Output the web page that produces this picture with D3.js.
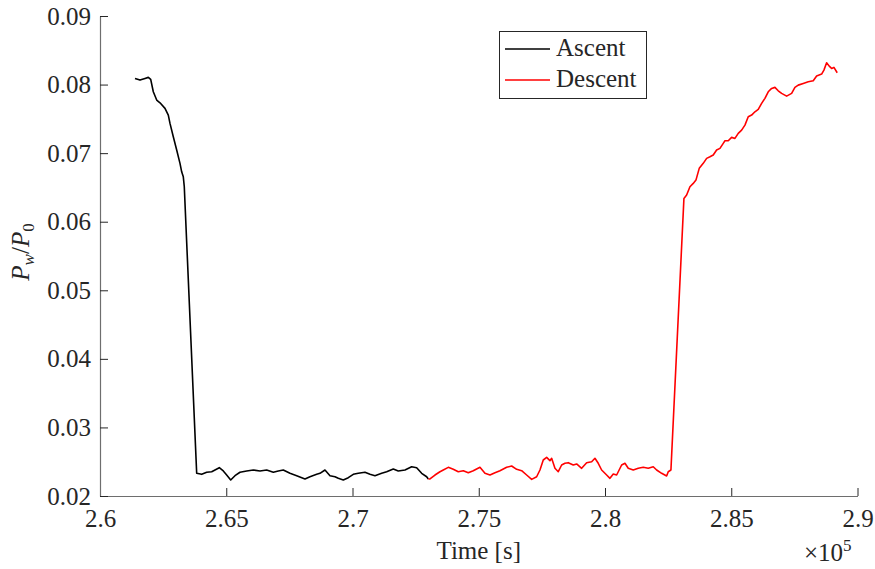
<!DOCTYPE html>
<html>
<head>
<meta charset="utf-8">
<script src="https://cdn.jsdelivr.net/npm/d3@7"></script>
<style>
  body { margin: 0; background: #fff; }
  svg text { font-family: "Liberation Serif", "Times New Roman", serif; fill: #262626; }
</style>
</head>
<body>
<div id="chart"></div>
<script>
// time in seconds, pressure ratio Pw/P0
const ascentTime = [261386, 261584, 261782, 261913, 262008, 262111, 262245, 262376, 262574, 262705,
  262772, 262903, 263037, 263168, 263235, 263299, 263338, 263829, 264027, 264225,
  264423, 264554, 264724, 264883, 265017, 265176, 265346, 265544, 265809, 266071,
  266336, 266601, 266863, 267061, 267259, 267524, 267789, 268118, 268316, 268581,
  268712, 268910, 269108, 269306, 269437, 269635, 269833, 270031, 270229, 270494,
  270692, 270890, 271155, 271353, 271615, 271813, 272078, 272343, 272541, 272739,
  272937, 273002];
const ascentP = [0.0809, 0.08065, 0.0809, 0.08105, 0.08076, 0.07895, 0.07774, 0.07734, 0.07653, 0.07555,
  0.07434, 0.07239, 0.07045, 0.06851, 0.06728, 0.06655, 0.0651, 0.02331, 0.02316, 0.02346,
  0.02354, 0.02379, 0.02413, 0.02365, 0.02306, 0.02233, 0.02296, 0.02346, 0.02365, 0.02379,
  0.02365, 0.02379, 0.02346, 0.02365, 0.02379, 0.02331, 0.02296, 0.02248, 0.02281, 0.02316,
  0.02331, 0.02379, 0.02296, 0.02281, 0.02258, 0.02233, 0.02267, 0.02316, 0.02331, 0.02346,
  0.02316, 0.02296, 0.02331, 0.02354, 0.02394, 0.02365, 0.02379, 0.02427, 0.02413, 0.02331,
  0.02281, 0.02248];

const descentTime = [273002, 273068, 273266, 273464, 273595, 273793, 273991, 274189, 274387, 274585,
  274783, 275048, 275246, 275444, 275642, 275840, 276105, 276303, 276501, 276699,
  276897, 277095, 277293, 277424, 277555, 277689, 277820, 277887, 278018, 278149,
  278283, 278414, 278545, 278743, 278877, 279075, 279273, 279471, 279602, 279733,
  279867, 280065, 280196, 280327, 280461, 280659, 280790, 280921, 281119, 281317,
  281515, 281713, 281911, 282045, 282243, 282441, 282505, 282611,
  283126, 283233, 283364, 283495, 283602, 283732, 283891, 284025, 284156, 284287,
  284421, 284552, 284683, 284750, 284881, 285015, 285146, 285277, 285411, 285542,
  285673, 285807, 285938, 286069, 286203, 286334, 286465, 286599, 286730, 286861,
  286995, 287193, 287391, 287522, 287653, 287851, 288049, 288247, 288381, 288579,
  288670, 288777, 288880, 288975, 289066, 289197];
const descentP = [0.02248, 0.02248, 0.02306, 0.02354, 0.02379, 0.02418, 0.02389, 0.02354, 0.02369, 0.0234,
  0.02369, 0.02418, 0.02331, 0.02306, 0.0234, 0.02369, 0.02418, 0.02437, 0.02389, 0.02369,
  0.02306, 0.02243, 0.02281, 0.02379, 0.02525, 0.02564, 0.02515, 0.0255, 0.02404, 0.02354,
  0.02452, 0.02477, 0.02486, 0.02452, 0.02467, 0.02404, 0.02486, 0.025, 0.0255, 0.02477,
  0.02379, 0.02306, 0.02258, 0.02321, 0.02306, 0.02452, 0.02477, 0.02404, 0.02379, 0.02404,
  0.02418, 0.02404, 0.02427, 0.02379, 0.02331, 0.02292, 0.02354, 0.02379,
  0.0634, 0.06389, 0.0651, 0.06559, 0.06607, 0.06778, 0.06851, 0.06924, 0.06947, 0.06972,
  0.07045, 0.0707, 0.07142, 0.0718, 0.0718, 0.0723, 0.07215, 0.07288, 0.07336, 0.07409,
  0.0753, 0.07555, 0.07603, 0.07638, 0.07726, 0.07799, 0.07895, 0.07944, 0.07959, 0.07909,
  0.07871, 0.07832, 0.07871, 0.07959, 0.07992, 0.08017, 0.0804, 0.08055, 0.08124, 0.08153,
  0.08211, 0.08318, 0.08269, 0.08236, 0.0825, 0.08172];

const xTicks = [260000, 265000, 270000, 275000, 280000, 285000, 290000];
const xTickLabels = ["2.6", "2.65", "2.7", "2.75", "2.8", "2.85", "2.9"];
const yTicks = [0.02, 0.03, 0.04, 0.05, 0.06, 0.07, 0.08, 0.09];
const yTickLabels = ["0.02", "0.03", "0.04", "0.05", "0.06", "0.07", "0.08", "0.09"];

const serif = '"Liberation Serif", "Times New Roman", serif';
const svgWidth = 875, svgHeight = 569;
const margin = {top: 16, right: 17.5, bottom: 73, left: 100};
const width = svgWidth - margin.left - margin.right;
const height = svgHeight - margin.top - margin.bottom;

const svg = d3.select("#chart").append("svg")
  .attr("width", svgWidth)
  .attr("height", svgHeight);

const chartGroup = svg.append("g")
  .attr("transform", `translate(${margin.left}, ${margin.top})`);

const x = d3.scaleLinear().domain([260000, 290000]).range([0, width]);
const y = d3.scaleLinear().domain([0.02, 0.09]).range([height, 0]);

// axes, ticks pointing inward like matlab
const bottomAxis = d3.axisBottom(x)
  .tickValues(xTicks)
  .tickFormat((d, i) => xTickLabels[i])
  .tickSizeInner(-8).tickSizeOuter(0).tickPadding(13);
const leftAxis = d3.axisLeft(y)
  .tickValues(yTicks)
  .tickFormat((d, i) => yTickLabels[i])
  .tickSizeInner(-8).tickSizeOuter(0).tickPadding(9);

const xAxis = chartGroup.append("g")
  .attr("transform", `translate(0, ${height})`)
  .call(bottomAxis);
const yAxis = chartGroup.append("g").call(leftAxis);

[xAxis, yAxis].forEach(ax => {
  ax.attr("font-size", null).attr("font-family", serif);
  ax.select(".domain").attr("stroke", "#6e6e6e").attr("stroke-width", 1.2);
  ax.selectAll(".tick line").attr("stroke", "#262626").attr("stroke-width", 1);
  ax.selectAll(".tick text")
    .style("font-family", serif)
    .style("font-size", "25px")
    .attr("fill", "#262626");
});

// lines
const ascent = ascentTime.map((t, i) => [t, ascentP[i]]);
const descent = descentTime.map((t, i) => [t, descentP[i]]);
const line = d3.line().x(d => x(d[0])).y(d => y(d[1]));

chartGroup.append("path").datum(ascent)
  .attr("d", line).attr("fill", "none")
  .attr("stroke", "#000").attr("stroke-width", 1.6).attr("stroke-linejoin", "round");
chartGroup.append("path").datum(descent)
  .attr("d", line).attr("fill", "none")
  .attr("stroke", "#ff0000").attr("stroke-width", 1.6).attr("stroke-linejoin", "round");

// axis labels
svg.append("text")
  .attr("x", margin.left + width / 2).attr("y", 559)
  .attr("text-anchor", "middle").style("font-size", "25px")
  .text("Time [s]");

const expo = svg.append("text")
  .attr("x", 804).attr("y", 561).style("font-size", "25px");
expo.append("tspan").text("×10");
expo.append("tspan").attr("dy", -10).style("font-size", "17px").text("5");

const yLabel = svg.append("text")
  .attr("transform", `translate(29, ${margin.top + height / 2 - 4}) rotate(-90)`)
  .attr("text-anchor", "middle").style("font-size", "25px");
yLabel.append("tspan").style("font-style", "italic").text("P");
yLabel.append("tspan").attr("dy", 5).style("font-style", "italic").style("font-size", "17px").text("w");
yLabel.append("tspan").attr("dy", -5).text("/");
yLabel.append("tspan").style("font-style", "italic").text("P");
yLabel.append("tspan").attr("dy", 5).style("font-size", "17px").text("0");

// legend
const legend = svg.append("g");
legend.append("rect")
  .attr("x", 499.5).attr("y", 31.5).attr("width", 147).attr("height", 67)
  .attr("fill", "#fff").attr("stroke", "#262626").attr("stroke-width", 1);
const legendItems = [["Ascent", "#000", 49], ["Descent", "#ff0000", 80]];
legendItems.forEach(([name, color, ly]) => {
  legend.append("line")
    .attr("x1", 505).attr("x2", 550).attr("y1", ly).attr("y2", ly)
    .attr("stroke", color).attr("stroke-width", 1.6);
  legend.append("text")
    .attr("x", 556).attr("y", ly + 7).style("font-size", "25px")
    .text(name);
});
</script>
</body>
</html>
